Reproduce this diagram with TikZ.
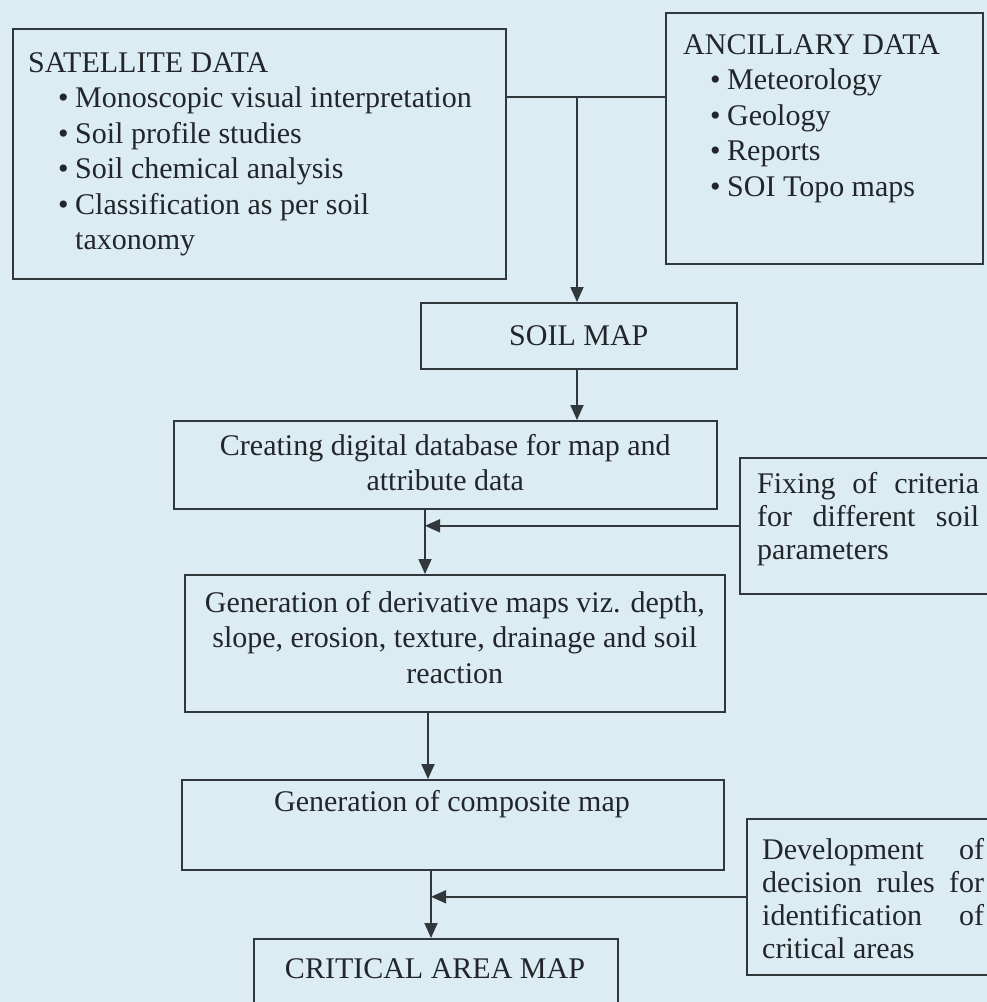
\documentclass[tikz,border=0pt]{standalone}
\usepackage{fontspec}
\setmainfont{Liberation Serif}
\usetikzlibrary{arrows.meta,calc}
\definecolor{bg}{RGB}{220,236,243}
\definecolor{ink}{RGB}{48,56,60}
\definecolor{txt}{RGB}{34,38,42}
\newcommand{\bul}{\makebox[17pt][l]{\textbullet}}
\begin{document}
\hyphenpenalty=10000
\exhyphenpenalty=10000
\lefthyphenmin=64
\tolerance=9999
\begin{tikzpicture}[x=1pt,y=-1pt,
  box/.style={draw=ink, line width=1.6pt, inner sep=0pt, anchor=north west},
  lbl/.style={text=txt, font=\fontsize{30}{35.5}\selectfont, inner sep=0pt},
  side/.style={lbl, text width=222pt, align=justify, anchor=north west,
    font=\fontsize{30}{33}\selectfont},
  arr/.style={draw=ink, line width=1.8pt, -{Triangle[length=15pt,width=13pt]}},
  ln/.style={draw=ink, line width=1.8pt}]
\useasboundingbox (0,0) rectangle (987,1002);
\clip (0,0) rectangle (987,1002);
\fill[bg] (0,0) rectangle (987,1002);

% boxes
\node[box, minimum width=493pt, minimum height=250pt] (sat) at (12,28) {};
\node[box, minimum width=317pt, minimum height=251pt] (anc) at (665,12) {};
\node[box, minimum width=316pt, minimum height=66pt] (soil) at (420,302) {};
\node[box, minimum width=543pt, minimum height=88pt] (creat) at (173,420) {};
\node[box, minimum width=260pt, minimum height=136pt] (fix) at (739,457) {};
\node[box, minimum width=540pt, minimum height=137pt] (gder) at (184,574) {};
\node[box, minimum width=542pt, minimum height=90pt] (comp) at (181,779) {};
\node[box, minimum width=260pt, minimum height=156pt] (dev) at (746,818) {};
\node[box, minimum width=364pt, minimum height=80pt] (crit) at (253,938) {};

% texts
\node[lbl, anchor=north west, align=left] (satT) at (28,52) {SATELLITE DATA\\
\hspace*{30pt}\bul Monoscopic visual interpretation\\
\hspace*{30pt}\bul Soil profile studies\\
\hspace*{30pt}\bul Soil chemical analysis\\
\hspace*{30pt}\bul Classification as per soil\\
\hspace*{47pt}taxonomy};
\node[lbl, anchor=north west, align=left] (ancT) at (683,34) {ANCILLARY DATA\\
\hspace*{27pt}\bul Meteorology\\
\hspace*{27pt}\bul Geology\\
\hspace*{27pt}\bul Reports\\
\hspace*{27pt}\bul SOI Topo maps};
\node[lbl] (soilT) at (soil.center) {SOIL MAP};
\node[lbl, align=center] (creatT) at ($(creat.center)+(0,-2)$) {Creating digital database for map and\\attribute data};
\node[side] (fixT) at (757,472) {Fixing of criteria for different soil parameters};
\node[lbl, align=center] (gderT) at ($(gder.center)+(0,-6)$) {Generation of derivative maps viz. depth,\\slope, erosion, texture, drainage and soil\\reaction};
\node[lbl, anchor=base] (compT) at (452,811) {Generation of composite map};
\node[side] (devT) at (762,838) {Development of decision rules for identification of critical areas};
\node[lbl, anchor=base] (critT) at (435,978) {CRITICAL AREA MAP};

% connectors
\coordinate (j0) at (577,97);
\coordinate (xa) at (425,0);
\coordinate (xb) at (428,0);
\coordinate (xc) at (431,0);
\draw[ln] (sat.east |- j0) -- (anc.west |- j0);
\draw[arr] (j0) -- (soil.north -| j0);
\draw[arr] (soil.south -| j0) -- (creat.north -| j0);
\draw[arr] (creat.south -| xa) -- (gder.north -| xa);
\draw[arr] (fix.west) -- (fix.west -| xa);
\draw[arr] (gder.south -| xb) -- (comp.north -| xb);
\draw[arr] (comp.south -| xc) -- (crit.north -| xc);
\draw[arr] (dev.west) -- (dev.west -| xc);
\end{tikzpicture}
\end{document}
